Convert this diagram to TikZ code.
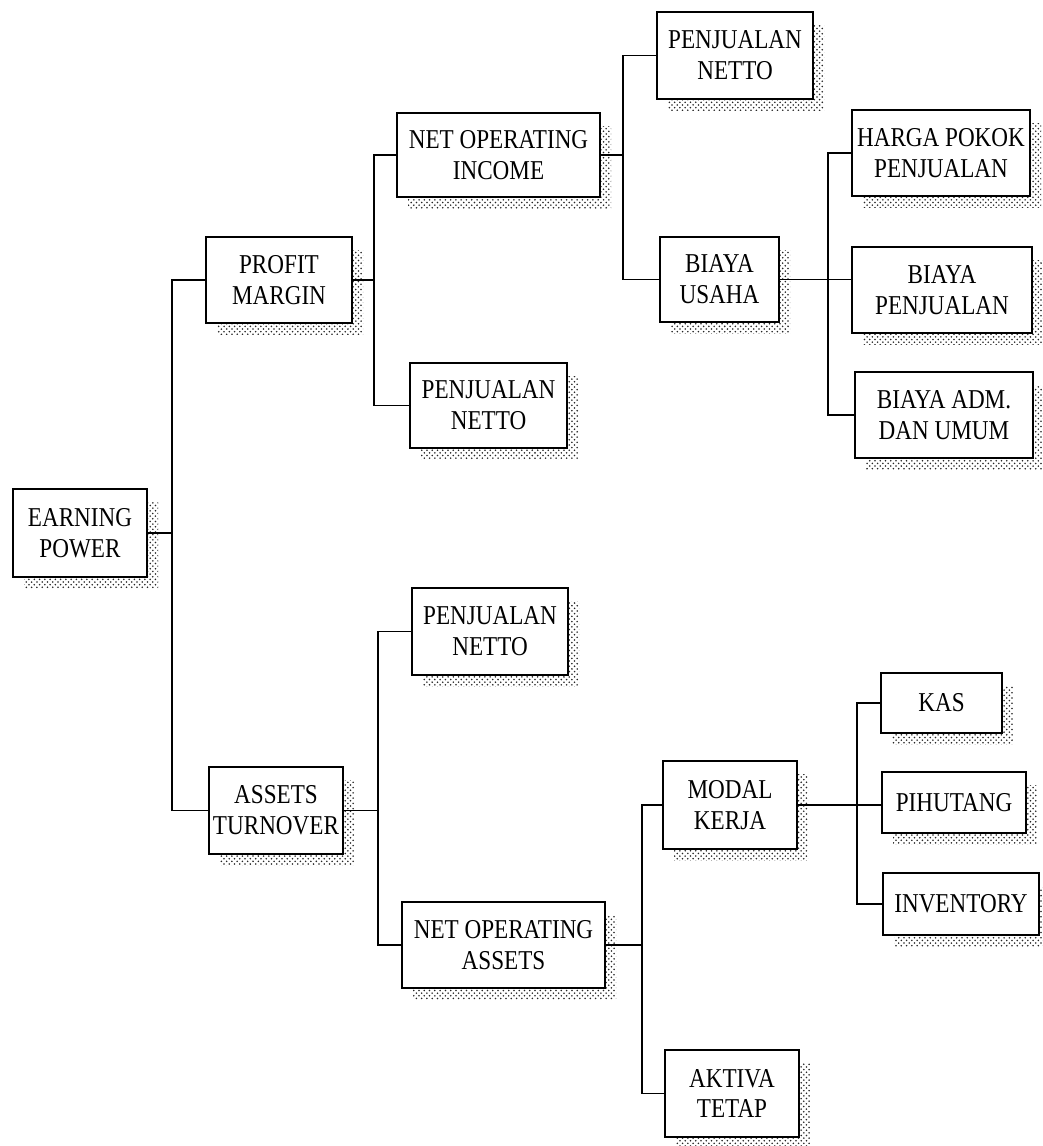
\documentclass[tikz,border=0pt]{standalone}
\usepackage{fontspec}
\setmainfont{Liberation Serif}[FakeStretch=0.85]
\usetikzlibrary{patterns}
\newcommand{\mybox}[6]{%
  \fill[pattern=crosshatch dots, pattern color=black!85] (#2+11,#3+13) rectangle (#4+11,#5+11);
  \pgfmathsetmacro{\bw}{(#4-#2)*0.02}%
  \pgfmathsetmacro{\bh}{(#5-#3)*0.02}%
  \node[boxst, minimum width=\bw cm, minimum height=\bh cm] (#1) at ({(#2+#4)/2},{(#3+#5)/2}) {#6};
}
\begin{document}
\begin{tikzpicture}[x=0.02cm,y=-0.02cm,
  boxst/.style={draw=black, fill=white, line width=1.1pt, inner sep=0pt, align=center,
    font=\fontsize{15.5}{17.6}\selectfont},
  conn/.style={line width=1.1pt, line cap=rect}]
\useasboundingbox (0,0) rectangle (1043,1146);

\mybox{ep}{13}{489}{147}{577}{EARNING\\POWER}
\mybox{pm}{206}{237}{352}{323}{PROFIT\\MARGIN}
\mybox{at}{209}{767}{343}{854}{ASSETS\\TURNOVER}
\mybox{noi}{397}{113}{600}{197}{NET OPERATING\\INCOME}
\mybox{pna}{410}{363}{567}{448}{PENJUALAN\\NETTO}
\mybox{pnb}{412}{588}{568}{675}{PENJUALAN\\NETTO}
\mybox{noa}{402}{902}{605}{988}{NET OPERATING\\ASSETS}
\mybox{pnc}{657}{12}{813}{99}{PENJUALAN\\NETTO}
\mybox{bu}{660}{237}{779}{322}{BIAYA\\USAHA}
\mybox{hpp}{852}{110}{1030}{196}{HARGA POKOK\\PENJUALAN}
\mybox{bp}{852}{247}{1032}{333}{BIAYA\\PENJUALAN}
\mybox{bau}{855}{372}{1033}{458}{BIAYA ADM.\\DAN UMUM}
\mybox{mk}{663}{761}{797}{849}{MODAL\\KERJA}
\mybox{kas}{881}{673}{1002}{733}{KAS}
\mybox{pih}{882}{772}{1026}{833}{PIHUTANG}
\mybox{inv}{883}{873}{1039}{935}{INVENTORY}
\mybox{akt}{665}{1050}{799}{1137}{AKTIVA\\TETAP}

\coordinate (b1) at (172,0);
\coordinate (b2) at (374,0);
\coordinate (b3) at (378,0);
\coordinate (b4) at (623,0);
\coordinate (b5) at (828,0);
\coordinate (b6) at (642,0);
\coordinate (b7) at (857,0);

% earning power
\draw[conn] (ep.east) -- (ep.east -| b1);
\draw[conn] (pm.west) -- (pm.west -| b1) -- (at.west -| b1) -- (at.west);
% profit margin
\draw[conn] (pm.east) -- (pm.east -| b2);
\draw[conn] (noi.west) -- (noi.west -| b2) -- (pna.west -| b2) -- (pna.west);
% assets turnover
\draw[conn] (at.east) -- (at.east -| b3);
\draw[conn] (pnb.west) -- (pnb.west -| b3) -- (noa.west -| b3) -- (noa.west);
% net operating income
\draw[conn] (noi.east) -- (noi.east -| b4);
\draw[conn] (pnc.west) -- (pnc.west -| b4) -- (bu.west -| b4) -- (bu.west);
% biaya usaha
\draw[conn] (bu.east) -- (bu.east -| bp.west);
\draw[conn] (hpp.west) -- (hpp.west -| b5) -- (bau.west -| b5) -- (bau.west);
% net operating assets
\draw[conn] (noa.east) -- (noa.east -| b6);
\draw[conn] (mk.west) -- (mk.west -| b6) -- (akt.west -| b6) -- (akt.west);
% modal kerja
\draw[conn] (mk.east) -- (mk.east -| pih.west);
\draw[conn] (kas.west) -- (kas.west -| b7) -- (inv.west -| b7) -- (inv.west);
\end{tikzpicture}
\end{document}
